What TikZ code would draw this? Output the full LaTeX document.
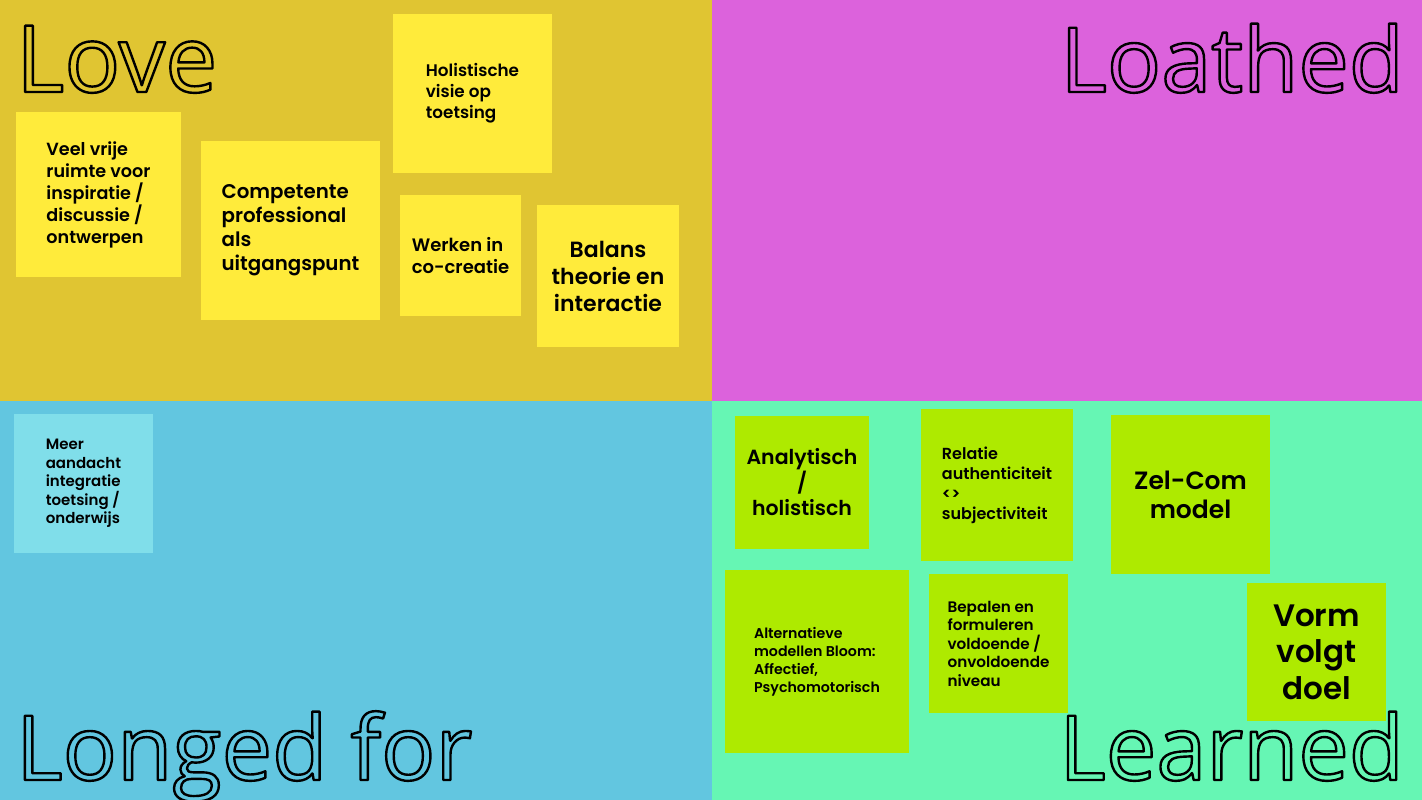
\documentclass[tikz,border=0pt]{standalone}
\usepackage{fontspec}
\setmainfont{Poppins SemiBold}
\newfontfamily\titlefont{Open Sans}
\definecolor{loveBg}{HTML}{E0C532}
\definecolor{loathBg}{HTML}{DC62DC}
\definecolor{longBg}{HTML}{62C6E0}
\definecolor{learnBg}{HTML}{66F6B4}
\definecolor{noteYellow}{HTML}{FFEB3B}
\definecolor{noteCyan}{HTML}{80DEEA}
\definecolor{noteLime}{HTML}{AEEA00}
% hollow (stroked) lettering for the quadrant titles
\newcommand{\hollow}[1]{\special{pdf:code q 1 Tr 2.4 w 1 j}#1\special{pdf:code Q}}
\newcommand{\fs}[2]{\fontsize{#1}{#2}\selectfont}
\begin{document}
\begin{tikzpicture}[x=1pt,y=-1pt,
  note/.style={inner sep=0pt,outer sep=0pt,text=black},
  title/.style={inner sep=0pt,outer sep=0pt,font=\titlefont\fontsize{90}{90}\selectfont,text=black}]
\useasboundingbox (0,0) rectangle (1422,800);
% quadrants
\fill[loveBg]  (0,0) rectangle (712,401);
\fill[loathBg] (712,0) rectangle (1422,401);
\fill[longBg]  (0,401) rectangle (712,800);
\fill[learnBg] (712,401) rectangle (1422,800);
% Love notes
\node[note,fill=noteYellow,minimum width=165,minimum height=165,align=left,font=\fs{17.6}{22}] (veel) at (98.5,194.5)
  {Veel vrije\\ruimte voor\\inspiratie /\\discussie /\\ontwerpen};
\node[note,fill=noteYellow,minimum width=179,minimum height=179,align=left,font=\fs{19.8}{24}] (comp) at (290.5,230.5)
  {Competente\\professional\\als\\uitgangspunt};
\node[note,fill=noteYellow,minimum width=159,minimum height=159,align=left,font=\fs{16.8}{21}] (holi) at (472.5,93.5)
  {Holistische\\visie op\\toetsing};
\node[note,fill=noteYellow,minimum width=121,minimum height=121,align=left,font=\fs{18}{22}] (werk) at (460.5,255.5)
  {Werken in\\co-creatie};
\node[note,fill=noteYellow,minimum width=142,minimum height=142,align=center,font=\fs{22}{27}] (bal) at (608,276)
  {Balans\\theorie en\\interactie};
% Longed for note
\node[note,fill=noteCyan,minimum width=139,minimum height=139,align=left,font=\fs{15}{18.5}] (meer) at (83.5,483.5)
  {Meer\\aandacht\\integratie\\toetsing /\\onderwijs};
% Learned notes
\node[note,fill=noteLime,minimum width=134,minimum height=133,align=center,font=\fs{20.5}{25.5}] (ana) at (802,482.5)
  {Analytisch\\/\\holistisch};
\node[note,fill=noteLime,minimum width=152,minimum height=152,align=left,font=\fs{16}{20}] (rel) at (997,485)
  {Relatie\\authenticiteit\\<>\\subjectiviteit};
\node[note,fill=noteLime,minimum width=159,minimum height=159,align=center,font=\fs{25}{29}] (zel) at (1190.5,494.5)
  {Zel-Com\\model};
\node[note,fill=noteLime,minimum width=184,minimum height=183,align=left,font=\fs{14.2}{18}] (alt) at (817,661.5)
  {Alternatieve\\modellen Bloom:\\Affectief,\\Psychomotorisch};
\node[note,fill=noteLime,minimum width=139,minimum height=139,align=left,font=\fs{15.2}{18.5}] (bep) at (998.5,643.5)
  {Bepalen en\\formuleren\\voldoende /\\onvoldoende\\niveau};
\node[note,fill=noteLime,minimum width=139,minimum height=138,align=center,font=\fs{31}{36.5}] (vorm) at (1316.5,652)
  {Vorm\\volgt\\doel};
% quadrant titles
\node[title,anchor=base west,font=\titlefont\fontsize{93}{93}\selectfont] (love) at (16,92) {\hollow{Love}};
\node[title,anchor=base east] (loathed) at (1404,92) {\hollow{Loathed}};
\node[title,anchor=base west] (longed) at (16,780) {\hollow{Longed for}};
\node[title,anchor=base east] (learned) at (1404,780) {\hollow{Learned}};
\end{tikzpicture}
\end{document}
